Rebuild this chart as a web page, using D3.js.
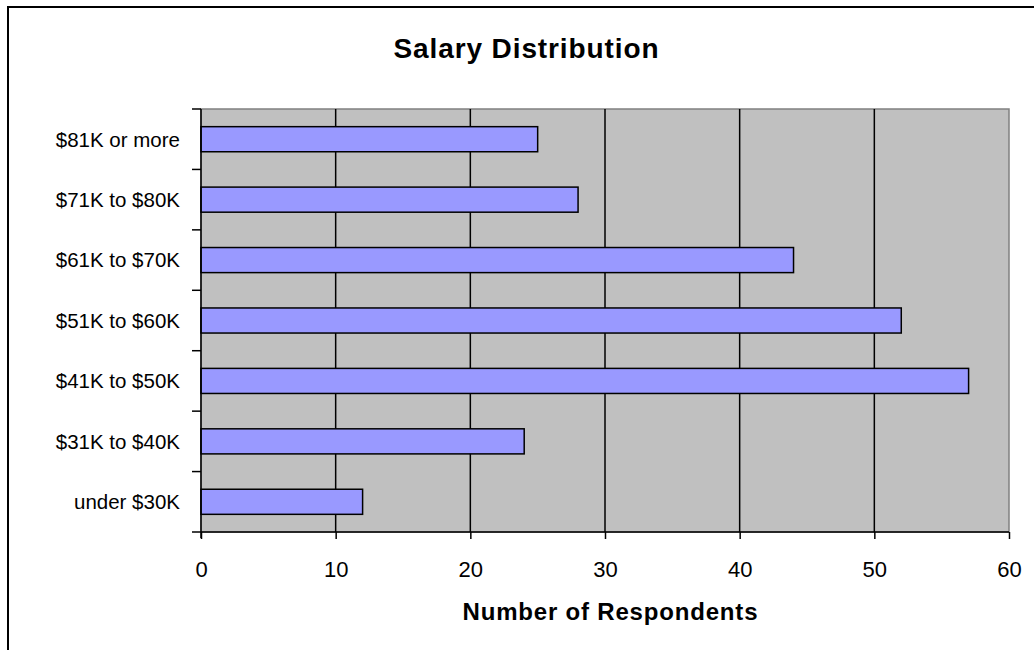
<!DOCTYPE html>
<html>
<head>
<meta charset="utf-8">
<script src="https://cdn.jsdelivr.net/npm/d3@7"></script>
<style>
body { margin: 0; background: #fff; }
text { font-family: "Liberation Sans", Arial, sans-serif; }
</style>
</head>
<body>
<script>
// salary bands, bottom to top like the original
var categories = ["under $30K", "$31K to $40K", "$41K to $50K", "$51K to $60K", "$61K to $70K", "$71K to $80K", "$81K or more"];
var respondents = [12, 24, 57, 52, 44, 28, 25];
var xTicks = [0, 10, 20, 30, 40, 50, 60];

var W = 1034, H = 650;
var pLeft = 201, pRight = 1009, pTop = 109, pBottom = 532;

var svg = d3.select("body").append("svg")
  .attr("width", W)
  .attr("height", H);

// outer chart border
svg.append("rect")
  .attr("x", 8).attr("y", 7)
  .attr("width", W + 10).attr("height", H + 10)
  .attr("fill", "#fff")
  .attr("stroke", "#000")
  .attr("stroke-width", 2);

var x = d3.scaleLinear().domain([0, 60]).range([pLeft, pRight]);
var y = d3.scaleBand().domain(categories.slice().reverse()).range([pTop, pBottom]).paddingInner(0.585).paddingOuter(0.2925);

// plot area
svg.append("rect")
  .attr("x", pLeft).attr("y", pTop)
  .attr("width", pRight - pLeft).attr("height", pBottom - pTop)
  .attr("fill", "#c0c0c0")
  .attr("stroke", "#808080")
  .attr("stroke-width", 1.5);

// vertical gridlines
svg.append("g").selectAll("line")
  .data(xTicks.filter(function(d){ return d > 0 && d < 60; }))
  .enter().append("line")
  .attr("x1", function(d){ return x(d); })
  .attr("x2", function(d){ return x(d); })
  .attr("y1", pTop).attr("y2", pBottom)
  .attr("stroke", "#000")
  .attr("stroke-width", 1.5);

// bars
svg.append("g").selectAll("rect")
  .data(categories)
  .enter().append("rect")
  .attr("x", x(0))
  .attr("y", function(d){ return y(d); })
  .attr("width", function(d, i){ return x(respondents[i]) - x(0); })
  .attr("height", y.bandwidth())
  .attr("fill", "#9999ff")
  .attr("stroke", "#000")
  .attr("stroke-width", 1.5);

// x axis
var xAxis = svg.append("g")
  .attr("transform", "translate(0," + pBottom + ")")
  .call(d3.axisBottom(x).tickValues(xTicks).tickSizeInner(7).tickSizeOuter(0).tickPadding(22));
xAxis.select(".domain").attr("stroke", "#000").attr("stroke-width", 1.5).attr("d", "M" + (pLeft - 9) + ",0H" + pRight);
xAxis.selectAll(".tick line").attr("stroke-width", 1.5);
xAxis.selectAll("text")
  .style("font-size", "22px")
  .style("font-family", "'Liberation Sans', Arial, sans-serif")
  .attr("fill", "#000");

// y axis: ticks sit at the band boundaries
var step = (pBottom - pTop) / categories.length;
var yAxis = svg.append("g");
yAxis.append("line")
  .attr("x1", pLeft).attr("x2", pLeft)
  .attr("y1", pTop).attr("y2", pBottom + 6)
  .attr("stroke", "#000").attr("stroke-width", 1.5);
yAxis.selectAll(".tk")
  .data(d3.range(categories.length))
  .enter().append("line")
  .attr("x1", pLeft - 9).attr("x2", pLeft)
  .attr("y1", function(i){ return pTop + i * step; })
  .attr("y2", function(i){ return pTop + i * step; })
  .attr("stroke", "#000").attr("stroke-width", 1.5);
yAxis.selectAll("text")
  .data(categories)
  .enter().append("text")
  .attr("x", 180)
  .attr("y", function(d){ return y(d) + y.bandwidth() / 2; })
  .attr("dy", "0.36em")
  .attr("text-anchor", "end")
  .style("font-size", "20.5px")
  .text(function(d){ return d; });

// titles
svg.append("text")
  .attr("x", 526).attr("y", 58)
  .attr("text-anchor", "middle")
  .style("font-size", "28px")
  .attr("font-weight", "bold")
  .attr("textLength", 265)
  .attr("lengthAdjust", "spacing")
  .text("Salary Distribution");

svg.append("text")
  .attr("x", 610).attr("y", 620)
  .attr("text-anchor", "middle")
  .style("font-size", "24px")
  .attr("font-weight", "bold")
  .attr("textLength", 295)
  .attr("lengthAdjust", "spacing")
  .text("Number of Respondents");
</script>
</body>
</html>
